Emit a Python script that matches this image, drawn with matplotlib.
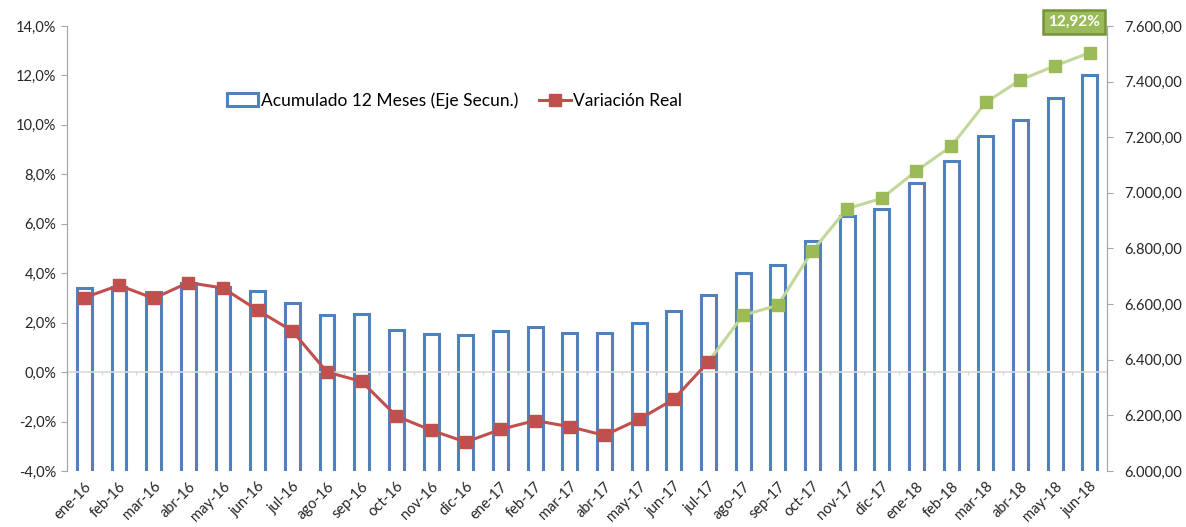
import numpy as np
import matplotlib.pyplot as plt
from matplotlib.patches import Patch
from matplotlib.lines import Line2D
from matplotlib.ticker import FuncFormatter

plt.rcParams['font.family'] = ['Lato', 'DejaVu Sans']

meses = ['ene-16', 'feb-16', 'mar-16', 'abr-16', 'may-16', 'jun-16', 'jul-16', 'ago-16',
         'sep-16', 'oct-16', 'nov-16', 'dic-16', 'ene-17', 'feb-17', 'mar-17', 'abr-17',
         'may-17', 'jun-17', 'jul-17', 'ago-17', 'sep-17', 'oct-17', 'nov-17', 'dic-17',
         'ene-18', 'feb-18', 'mar-18', 'abr-18', 'may-18', 'jun-18']

# Acumulado 12 meses (eje secundario)
acumulado = [6657, 6663, 6644, 6675, 6660, 6646, 6605, 6562, 6564, 6506,
             6491, 6488, 6503, 6519, 6497, 6495, 6533, 6574, 6634, 6711,
             6740, 6828, 6918, 6943, 7034, 7115, 7205, 7262, 7341, 7425]

# Variacion real (%)
variacion = [3.01, 3.51, 2.98, 3.62, 3.40, 2.50, 1.66, 0.00, -0.38, -1.78,
             -2.35, -2.83, -2.32, -1.96, -2.21, -2.56, -1.91, -1.10, 0.42, 2.30,
             2.70, 4.90, 6.61, 7.03, 8.14, 9.13, 10.91, 11.82, 12.39, 12.92]

# a partir de jul-17 la serie se pinta en verde
corte = 18

azul = '#4f81bd'
rojo = '#c0504d'
verde = '#9bbb59'
verde_claro = '#c3d69b'
gris = '#a6a6a6'

x = np.arange(len(meses))

fig = plt.figure(figsize=(11.86, 5.27), dpi=100)
ax = fig.add_axes([0.0565, 0.1063, 0.877, 0.8444])
ax2 = ax.twinx()

# barras en el eje secundario
ax2.bar(x, acumulado, width=0.43, bottom=0, facecolor='white', edgecolor=azul, linewidth=2.2)
ax2.set_ylim(6000, 7600)
ax2.set_yticks(np.arange(6000, 7601, 200))
ax2.yaxis.set_major_formatter(FuncFormatter(lambda v, p: f'{v:,.2f}'.replace(',', 'X').replace('.', ',').replace('X', '.')))

# lineas en el eje principal, por encima de las barras
ax.set_zorder(ax2.get_zorder() + 1)
ax.patch.set_visible(False)

ax.axhline(0, color='#d9d9d9', linewidth=1.2, zorder=1)
ax.vlines(np.arange(-0.5, len(meses)), -0.12, 0, color='#d9d9d9', linewidth=0.8, zorder=1)

ax.plot(x[corte:], variacion[corte:], color=verde_claro, linewidth=2.2, zorder=3)
ax.plot(x[corte + 1:], variacion[corte + 1:], linestyle='none', marker='s', markersize=8,
        color=verde, zorder=4)
ax.plot(x[:corte + 1], variacion[:corte + 1], color=rojo, linewidth=2.2, marker='s',
        markersize=8, zorder=5)

ax.set_ylim(-4, 14)
ax.set_yticks(np.arange(-4, 14.1, 2))
ax.yaxis.set_major_formatter(FuncFormatter(lambda v, p: f'{v:.1f}%'.replace('.', ',')))
ax.set_xlim(-0.5, len(meses) - 0.5)
ax.set_xticks(x)
ax.set_xticklabels(meses, rotation=45, ha='right', rotation_mode='anchor', fontsize=10.5, color='#262626')
ax.tick_params(axis='x', length=0, pad=6)
ax.tick_params(axis='y', labelsize=10.5, colors='#262626', length=4, color=gris, direction='out')
ax2.tick_params(axis='y', labelsize=10.5, colors='#262626', length=4, color=gris, direction='out', pad=8)

for a in (ax, ax2):
    a.spines['top'].set_visible(False)
    a.spines['bottom'].set_visible(False)
    a.spines['left'].set_color(gris)
    a.spines['right'].set_color(gris)

# etiqueta del ultimo valor
ax.text(28.55, 14.16, f'{variacion[-1]:.2f}%'.replace('.', ','), ha='center', va='center',
        color='white', fontsize=11, fontweight='bold', clip_on=False, zorder=6,
        bbox=dict(boxstyle='square,pad=0.32', facecolor=verde, edgecolor='#76923c', linewidth=1.8))

handles = [Patch(facecolor='white', edgecolor=azul, linewidth=2.2),
           Line2D([], [], color=rojo, linewidth=2.2, marker='s', markersize=8)]
ax.legend(handles, ['Acumulado 12 Meses (Eje Secun.)', 'Variación Real'], ncol=2, frameon=False,
          loc='center left', bbox_to_anchor=(0.139, 0.833), fontsize=12.5, handlelength=1.8,
          handletextpad=0.15, columnspacing=1.2)

fig.savefig('out.png', dpi=100)
